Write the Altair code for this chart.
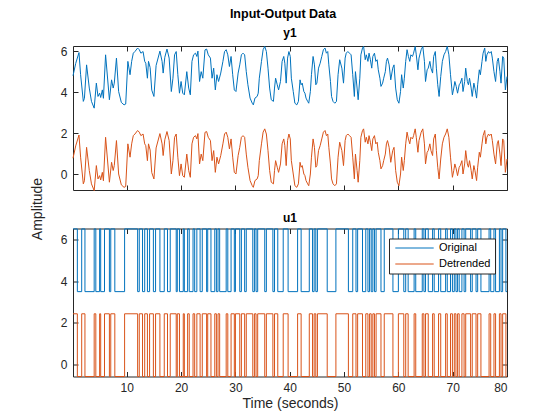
import altair as alt
import pandas as pd

# ---------------- data ----------------
# y1 (output), original signal, sampled along time (seconds)
y1_time = [
    0.1, 0.6, 1.2, 1.5, 2.0, 2.2, 2.6, 3.1, 3.5, 4.0, 4.4, 4.7, 5.0, 5.2, 5.5, 5.7, 6.1, 6.8, 7.2, 7.5,
    7.7, 8.1, 8.5, 9.0, 9.5, 9.8, 10.2, 10.6, 10.9, 11.2, 11.5, 12.0, 12.3, 12.6, 13.0, 13.3, 13.5, 13.8,
    14.0, 14.3, 14.6, 15.0, 15.4, 16.1, 16.5, 16.7, 17.0, 17.4, 17.8, 18.2, 18.5, 18.8, 19.1,
    19.4, 19.7, 20.0, 20.3, 20.6, 21.05, 21.4, 21.7, 22.0, 22.3, 22.65, 22.9, 23.1, 23.4, 23.7, 24.0,
    24.4, 24.7, 25.0, 25.4, 25.7, 26.0, 26.3, 26.6, 26.9, 27.3, 27.7, 28.0, 28.3, 28.6, 28.9, 29.2,
    29.5, 29.8, 30.1, 30.5, 30.8, 31.1, 31.4, 31.7, 32.0, 32.3, 32.7, 33.1, 33.3, 33.6, 34.0, 34.2,
    34.4, 34.8, 35.1, 35.4, 35.7, 36.0, 36.3, 36.6, 37.0, 37.2, 37.4, 37.7, 37.95, 38.3, 38.6, 38.9, 39.1,
    39.35, 39.6, 39.85, 40.1, 40.3, 40.65, 40.95, 41.3, 41.6, 41.9, 42.1, 42.3, 42.6, 42.8, 43.0, 43.3,
    43.5, 43.8, 44.0, 44.3, 44.55, 44.8, 45.0, 45.3, 45.6, 45.9, 46.2, 46.5, 46.75, 47.0, 47.2, 47.5,
    47.7, 47.97, 48.3, 48.6, 48.9, 49.2, 49.6, 49.9, 50.2, 50.4, 50.7, 51.0, 51.3, 51.6, 51.9, 52.1,
    52.4, 52.6, 52.9, 53.1, 53.4, 53.6, 53.9, 54.1, 54.4, 54.6, 54.85, 55.1, 55.3, 55.6, 55.85, 56.1,
    56.3, 56.6, 56.8, 57.1, 57.3, 57.6, 57.8, 58.0, 58.3, 58.6, 58.96,
    59.2, 59.5, 59.8, 60.1, 60.4, 60.6, 60.9, 61.1, 61.35, 61.6, 61.85, 62.1, 62.3, 62.6, 62.8, 63.1,
    63.3, 63.6, 63.8, 64.2, 64.5, 64.8, 65.0, 65.3, 65.5, 65.8, 66.0, 66.3, 66.5, 66.8, 67.0, 67.25,
    67.5, 67.8, 68.1, 68.4, 68.7, 69.0, 69.3, 69.6, 69.95, 70.2, 70.4, 70.65, 70.9, 71.2, 71.4, 71.7,
    71.9, 72.2, 72.4, 72.7, 72.9, 73.1, 73.4, 73.6, 73.9, 74.1, 74.4, 74.6, 74.9, 75.1, 75.4, 75.6,
    75.9, 76.1, 76.3, 76.6, 76.8, 77.1, 77.3, 77.6, 77.9, 78.2, 78.4, 78.7, 78.9, 79.2, 79.4, 79.7, 80.0,
]
y1_original = [
    4.80, 5.40, 5.93, 4.85, 3.55, 3.70, 5.33, 4.20, 3.55, 3.22, 4.44, 3.79, 3.95, 3.74, 4.11, 3.70, 5.82, 3.63, 4.60, 4.20,
    4.44, 5.66, 4.03, 3.50, 3.38, 3.42, 5.50, 4.85, 5.50, 5.90, 5.98, 6.15, 6.07, 5.90, 5.98, 5.50, 5.41, 4.68,
    5.50, 5.20, 4.10, 3.79, 5.30, 6.00, 5.50, 4.93, 5.70, 6.10, 5.66, 4.03, 4.68, 5.82, 5.98,
    4.85, 3.95, 4.52, 3.95, 3.87, 5.00, 4.20, 3.87, 5.50, 5.82, 5.90, 5.74, 6.00, 4.52, 5.00, 4.68,
    6.06, 6.10, 5.82, 5.66, 4.68, 5.17, 4.11, 4.85, 4.52, 4.93, 5.50, 5.98, 6.07, 5.82, 5.25, 5.74,
    4.85, 4.11, 4.03, 4.93, 5.33, 5.82, 5.90, 5.82, 5.00, 4.36, 3.71, 3.46, 3.38, 3.71, 3.79, 3.95,
    4.68, 5.50, 6.07, 6.23, 5.98, 5.17, 4.20, 3.63, 3.55, 4.20, 4.68, 4.36, 4.11, 4.52, 5.50, 5.74, 5.41,
    4.44, 5.66, 5.98, 5.74, 4.68, 4.03, 3.46, 3.38, 3.55, 4.60, 4.36, 4.44, 4.03, 3.95, 3.71, 3.55,
    3.46, 4.03, 4.85, 5.74, 5.33, 4.36, 4.44, 5.17, 5.41, 5.74, 6.07, 6.15, 5.90, 5.98, 5.33, 4.52,
    3.79, 3.55, 3.46, 3.55, 4.85, 5.58, 5.17, 4.44, 5.66, 5.90, 5.98, 5.90, 5.82, 4.85, 3.79, 5.00,
    4.20, 3.63, 4.68, 5.82, 6.15, 6.23, 5.58, 5.82, 5.50, 5.90, 5.58, 5.17, 5.74, 5.90, 5.50, 5.58,
    5.09, 4.68, 4.28, 4.44, 4.68, 5.00, 5.50, 5.66, 5.33, 4.60, 5.17,
    5.33, 4.20, 3.63, 3.46, 4.03, 4.85, 4.20, 4.68, 5.50, 6.07, 5.74, 5.50, 5.82, 5.74, 5.90, 6.23,
    5.82, 5.09, 5.66, 6.07, 6.23, 5.50, 4.52, 5.09, 5.17, 5.50, 5.17, 4.93, 5.74, 5.98, 5.17, 4.36,
    3.79, 4.76, 5.50, 5.82, 5.98, 6.23, 5.82, 4.85, 3.87, 4.20, 4.52, 4.28, 3.95, 4.36, 4.44, 4.68,
    4.03, 4.52, 5.17, 4.52, 4.36, 4.68, 4.20, 3.79, 4.44, 4.20, 3.71, 4.36, 5.09, 4.85, 5.50, 5.90,
    6.15, 5.50, 5.82, 5.98, 5.90, 5.98, 5.66, 5.00, 4.52, 5.50, 5.66, 5.00, 4.44, 5.74, 5.66, 4.11, 4.76,
]
y1_mean = 4.02          # level removed by detrending

# u1 (input): two-level signal, times (seconds) at which it switches level
u1_switch_times = [
    0.9, 1.7, 2.3, 4.0, 4.3, 5.0, 5.2, 5.9, 6.8, 7.05, 7.8, 9.6, 12.0, 12.3, 12.9, 13.3, 13.8, 14.2,
    14.9, 15.3, 16.1, 16.9, 17.5, 18.0, 19.1, 19.3, 19.7, 20.4, 20.6, 21.2, 21.5, 22.2, 22.5, 22.9,
    23.5, 23.9, 24.7, 24.9, 25.5, 26.2, 26.5, 26.8, 27.1, 28.3, 28.6, 29.2, 29.8, 30.0, 30.8, 31.1,
    31.7, 32.0, 33.2, 33.5, 33.8, 34.1, 35.4, 35.7, 36.9, 37.2, 37.8, 38.8, 39.7, 41.45, 42.1, 43.6,
    44.2, 44.5, 44.8, 45.1, 46.9, 48.5, 50.8, 51.6, 52.2, 52.5, 53.4, 54.0, 54.4, 54.7, 55.0, 55.3,
    55.6, 55.9, 56.8, 57.4, 59.0, 60.0, 61.0, 61.35, 61.8, 62.9, 63.2, 64.4, 64.7, 65.0, 65.5, 66.3,
    66.6, 67.4, 67.8, 68.7, 69.0, 69.6, 69.95, 70.3, 70.6, 70.9, 71.2, 71.7, 72.1, 72.4, 73.3, 73.6,
    74.3, 74.6, 75.2, 76.7, 77.0, 77.6, 77.9, 78.6, 78.9, 79.2, 79.8,
]
u1_high = 6.50
u1_low = 3.50
u1_mean = 4.06          # level removed by detrending

series_names = ["Original", "Detrended"]
series_colors = ["#0072BD", "#D95319"]
x_ticks = [10, 20, 30, 40, 50, 60, 70, 80]
y_ticks = [0, 2, 4, 6]
t_range = [0.1, 80.0]
y1_range = [-0.77, 6.25]
u1_range = [-0.56, 6.52]

# ---------------- tables ----------------
y1_rows = []
for t, v in zip(y1_time, y1_original):
    y1_rows.append({"t": t, "v": v, "series": "Original"})
for t, v in zip(y1_time, y1_original):
    y1_rows.append({"t": t, "v": v - y1_mean, "series": "Detrended"})
y1_df = pd.DataFrame(y1_rows)

u_pts = [(t_range[0], u1_high)]
level = u1_high
for s in u1_switch_times:
    level = u1_low if level == u1_high else u1_high
    u_pts.append((s, level))
u_pts.append((t_range[1], level))
u1_rows = [{"t": t, "v": v, "series": "Original"} for t, v in u_pts]
u1_rows += [{"t": t, "v": v - u1_mean, "series": "Detrended"} for t, v in u_pts]
u1_df = pd.DataFrame(u1_rows)

# ---------------- chart ----------------
W = 434
FONT = "Liberation Sans"
INK = "#262626"


def panel(df, y_dom, H, name, bottom, step, title_offset):
    base = alt.Chart(df)
    xs = alt.Scale(domain=t_range, nice=False, zero=False)
    ys = alt.Scale(domain=y_dom, nice=False, zero=False)
    if bottom:
        legend = alt.Legend(
            orient="none", legendX=316, legendY=10, title=None,
            symbolType="M-0.8,0H8.8", symbolSize=64, symbolStrokeWidth=1,
            labelFont=FONT, labelFontSize=11, labelColor="#000000", labelOffset=35,
            fillColor="white", strokeColor=INK, padding=4, rowPadding=4,
        )
    else:
        legend = None
    color = alt.Color("series:N", scale=alt.Scale(domain=series_names, range=series_colors),
                      legend=legend)
    if name == "y1":
        y_axis = alt.Axis(values=y_ticks, ticks=False, tickSize=0, domain=False, grid=False,
                          labelPadding=6, title="Amplitude", titleX=-29, titleY=162.5,
                          titleAngle=270, titleAlign="center", titleBaseline="bottom")
    else:
        y_axis = alt.Axis(values=y_ticks, ticks=False, tickSize=0, domain=False, grid=False,
                          labelPadding=6, title=None)
    x_axis = alt.Axis(values=x_ticks, labels=bottom, ticks=False, tickSize=0, domain=False,
                      grid=False, labelPadding=6, titlePadding=3,
                      title="Time (seconds)" if bottom else None)
    main = base.mark_line(strokeWidth=1, interpolate="step-after" if step else "linear").encode(
        x=alt.X("t:Q", scale=xs, axis=x_axis),
        y=alt.Y("v:Q", scale=ys, axis=y_axis),
        color=color,
    )
    inward = dict(labels=False, domain=False, grid=False, ticks=True, tickSize=5,
                  tickColor=INK, tickWidth=1, title=None)
    ticks_a = base.mark_line(strokeOpacity=0).encode(
        x=alt.X("t:Q", scale=xs, axis=alt.Axis(orient="top", offset=-H, values=x_ticks, **inward)),
        y=alt.Y("v:Q", scale=ys, axis=alt.Axis(orient="right", offset=-W, values=y_ticks, **inward)),
    )
    ticks_b = base.mark_line(strokeOpacity=0).encode(
        x=alt.X("t:Q", scale=xs, axis=alt.Axis(orient="bottom", offset=-H, values=x_ticks, **inward)),
        y=alt.Y("v:Q", scale=ys, axis=alt.Axis(orient="left", offset=-W, values=y_ticks, **inward)),
    )
    return alt.layer(main, ticks_a, ticks_b).resolve_axis(x="independent", y="independent").properties(
        width=W, height=H,
        title=alt.TitleParams(name, frame="group", anchor="middle", offset=title_offset, fontSize=12,
                              fontWeight="bold", font=FONT, color="#000000"),
    )


top = panel(y1_df, y1_range, 144, "y1", False, False, 4)
bot = panel(u1_df, u1_range, 148, "u1", True, True, 2)

chart = alt.vconcat(top, bot, spacing=38.5, bounds="flush").resolve_scale(
    color="independent"
).properties(
    title=alt.TitleParams("Input-Output Data", frame="group", anchor="middle", dx=-7, offset=6,
                          fontSize=12.5, fontWeight="bold", font=FONT, color="#000000"),
    padding={"left": 21, "top": 0, "right": 5, "bottom": 5},
).configure_view(
    stroke=INK, strokeWidth=1
).configure_axis(
    labelFont=FONT, labelFontSize=12, labelColor=INK,
    titleFont=FONT, titleFontSize=14, titleFontWeight="normal", titleColor=INK,
)

chart.save("out.html", embed_options={"renderer": "svg", "actions": False})
